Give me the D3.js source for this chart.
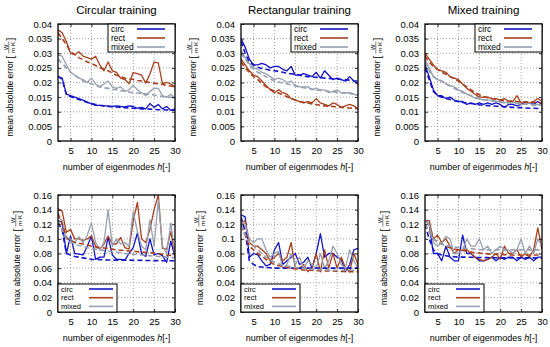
<!DOCTYPE html>
<html><head><meta charset="utf-8">
<script src="https://cdn.jsdelivr.net/npm/d3@7"></script>
<style>body{margin:0;background:#fff}svg{display:block}</style>
</head><body>
<svg id="c" width="550" height="347"></svg>
<script>
// ---------- data ----------
const hValues = [2,3,4,5,6,7,8,9,10,11,12,13,14,15,16,17,18,19,20,21,22,23,24,25,26,27,28,29,30];
const seriesNames = ["circ","rect","mixed"];
const panelTitles = ["Circular training","Rectangular training","Mixed training"];
const xTicks = [5,10,15,20,25,30];
const meanTicks = [0,0.005,0.01,0.015,0.02,0.025,0.03,0.035,0.04];
const maxTicks = [0,0.02,0.04,0.06,0.08,0.1,0.12,0.14,0.16];
const meanTickLabels = ["0","0.005","0.01","0.015","0.02","0.025","0.03","0.035","0.04"];
const maxTickLabels = ["0","0.02","0.04","0.06","0.08","0.1","0.12","0.14","0.16"];

// mean absolute error, circular training
const meanCircTrainCirc  = [.022,.0215,.016,.0155,.015,.0145,.014,.0133,.0127,.0122,.0122,.012,.012,.0118,.012,.0118,.0117,.012,.0118,.0112,.0115,.011,.0128,.0115,.0125,.011,.0118,.0105,.011];
const meanCircTrainCircD = [.022,.0212,.0158,.0152,.0147,.0142,.0137,.0132,.0128,.0125,.0122,.012,.0118,.0117,.0116,.0115,.0114,.0113,.0112,.0111,.011,.011,.0109,.0108,.0107,.0107,.0106,.0105,.0105];
const meanCircTrainRect  = [.038,.037,.034,.030,.0295,.0305,.029,.0285,.028,.029,.026,.024,.027,.024,.0235,.0215,.021,.0196,.0234,.023,.0225,.0198,.0229,.027,.0267,.0196,.020,.0195,.0185];
const meanCircTrainRectD = [.037,.035,.033,.0305,.0295,.0285,.0278,.027,.0265,.0258,.025,.0245,.024,.0232,.0225,.022,.0215,.0212,.021,.0207,.0205,.0202,.020,.0198,.0195,.0193,.019,.0188,.0185];
const meanCircTrainMixed = [.0295,.029,.026,.0235,.0225,.0215,.021,.020,.0215,.0195,.0185,.0195,.0205,.0185,.018,.0185,.017,.0175,.019,.0175,.0165,.0155,.017,.018,.018,.0155,.015,.016,.0145];
const meanCircTrainMixedD= [.028,.0265,.025,.0235,.0225,.0215,.0205,.020,.0195,.019,.0185,.0182,.018,.0177,.0175,.0172,.017,.0167,.0165,.0164,.0163,.0161,.016,.0157,.0155,.0152,.015,.0149,.0148];
// mean absolute error, rectangular training
const meanRectTrainCirc  = [.035,.032,.028,.026,.026,.0265,.026,.025,.0255,.0255,.0245,.024,.0255,.0225,.0225,.023,.0225,.022,.0235,.0215,.024,.0225,.021,.0215,.021,.0205,.022,.0205,.0195];
const meanRectTrainCircD = [.034,.030,.027,.026,.0252,.0248,.0245,.0242,.024,.0238,.0235,.0232,.023,.0228,.0225,.0222,.022,.0219,.0218,.0217,.0215,.0214,.0213,.0212,.021,.0209,.0208,.0206,.0205];
const meanRectTrainRect  = [.028,.026,.024,.0225,.022,.0205,.019,.0175,.0165,.0175,.0165,.016,.0145,.014,.0135,.013,.0135,.013,.0145,.013,.0125,.012,.013,.0125,.0115,.012,.0125,.012,.011];
const meanRectTrainRectD = [.027,.025,.0235,.022,.021,.0197,.0185,.0177,.017,.0164,.0158,.0151,.0145,.014,.0135,.0132,.013,.0127,.0125,.0122,.012,.0119,.0118,.0117,.0115,.0114,.0113,.0112,.011];
const meanRectTrainMixed = [.031,.0285,.0265,.025,.0245,.0235,.023,.022,.021,.0215,.021,.020,.0205,.019,.0185,.0185,.0185,.0175,.018,.0175,.0175,.0165,.017,.0175,.0165,.0165,.0165,.016,.0155];
const meanRectTrainMixedD= [.030,.028,.026,.0245,.0235,.0228,.022,.0212,.0205,.0202,.0198,.0195,.0192,.0188,.0185,.0182,.018,.0178,.0175,.0173,.0172,.017,.0168,.0167,.0165,.0163,.0162,.0161,.016];
// mean absolute error, mixed training
const meanMixTrainCirc   = [.026,.022,.0175,.0155,.0155,.0145,.015,.014,.0135,.0135,.0125,.013,.0125,.013,.0125,.013,.0125,.013,.0125,.0115,.0125,.0125,.012,.0125,.013,.013,.0125,.0135,.0125];
const meanMixTrainCircD  = [.025,.021,.017,.0155,.015,.0146,.0142,.0138,.0135,.0132,.013,.0128,.0127,.0124,.0122,.0121,.012,.0119,.0118,.0117,.0116,.0115,.0114,.0114,.0113,.0112,.0112,.0111,.011];
const meanMixTrainRect   = [.030,.028,.026,.0245,.024,.0235,.022,.0215,.021,.0195,.018,.017,.016,.015,.015,.015,.0145,.0145,.014,.0145,.0135,.0135,.0155,.013,.0135,.013,.0135,.0145,.0135];
const meanMixTrainRectD  = [.029,.027,.0255,.0245,.0235,.0228,.022,.0212,.0205,.0195,.0185,.0175,.0165,.0158,.0152,.0148,.0145,.0142,.014,.0138,.0137,.0136,.0135,.0134,.0133,.0133,.0132,.0131,.013];
const meanMixTrainMixed  = [.028,.025,.022,.021,.0205,.0195,.019,.0185,.0175,.017,.016,.0155,.0145,.0145,.014,.014,.014,.0135,.0135,.013,.0135,.013,.0135,.0125,.0125,.013,.012,.0125,.012];
const meanMixTrainMixedD = [.027,.024,.022,.021,.0205,.0195,.0188,.018,.0172,.0166,.016,.0155,.015,.0146,.0142,.014,.0137,.0135,.0133,.0131,.013,.0129,.0128,.0127,.0126,.0125,.0124,.0123,.0122];
// max absolute error, circular training
const maxCircTrainCirc   = [.125,.123,.080,.104,.080,.079,.078,.090,.104,.072,.075,.075,.102,.078,.072,.072,.071,.080,.088,.108,.080,.076,.100,.078,.080,.077,.068,.097,.075];
const maxCircTrainCircD  = [.122,.112,.080,.078,.076,.075,.074,.073,.072,.0718,.0716,.0714,.0712,.071,.071,.071,.071,.071,.0708,.0707,.0706,.0705,.0704,.0703,.0702,.0701,.070,.070,.070];
const maxCircTrainRect   = [.141,.138,.109,.113,.100,.100,.098,.100,.104,.090,.086,.093,.104,.093,.093,.102,.088,.086,.125,.150,.100,.095,.113,.140,.160,.087,.086,.110,.077];
const maxCircTrainRectD  = [.135,.120,.102,.097,.095,.094,.093,.092,.090,.089,.088,.0875,.087,.086,.085,.0845,.084,.0835,.083,.0825,.082,.0815,.081,.0805,.080,.079,.078,.0775,.077];
const maxCircTrainMixed  = [.130,.125,.100,.100,.095,.103,.095,.105,.122,.095,.085,.095,.140,.090,.100,.093,.095,.090,.137,.110,.090,.085,.126,.090,.153,.090,.080,.122,.080];
const maxCircTrainMixedD = [.125,.112,.100,.096,.093,.091,.090,.088,.087,.086,.085,.084,.083,.0825,.082,.081,.080,.0795,.079,.0785,.078,.0775,.077,.0765,.076,.0755,.075,.0745,.074];
// max absolute error, rectangular training
const maxRectTrainCirc   = [.133,.130,.075,.080,.078,.070,.063,.065,.085,.095,.065,.070,.075,.080,.065,.068,.075,.060,.080,.107,.075,.080,.080,.075,.072,.055,.065,.085,.087];
const maxRectTrainCircD  = [.130,.110,.070,.065,.062,.0615,.061,.0605,.060,.060,.060,.060,.060,.060,.060,.060,.060,.060,.060,.060,.060,.060,.060,.060,.060,.060,.060,.060,.060];
const maxRectTrainRect   = [.120,.125,.095,.090,.090,.085,.080,.070,.075,.080,.070,.075,.095,.060,.060,.065,.055,.060,.080,.055,.085,.060,.080,.060,.075,.060,.055,.080,.065];
const maxRectTrainRectD  = [.118,.105,.090,.085,.080,.076,.072,.068,.065,.0635,.062,.061,.060,.059,.058,.0575,.057,.057,.0565,.0565,.056,.056,.056,.0558,.0555,.0553,.055,.055,.055];
const maxRectTrainMixed  = [.125,.120,.100,.095,.100,.100,.085,.075,.080,.083,.060,.065,.080,.065,.075,.060,.070,.065,.060,.080,.060,.070,.090,.080,.065,.060,.085,.070,.060];
const maxRectTrainMixedD = [.120,.105,.095,.090,.085,.080,.075,.071,.068,.066,.064,.063,.062,.061,.060,.0595,.059,.0585,.058,.058,.058,.0575,.057,.057,.057,.057,.057,.057,.057];
// max absolute error, mixed training
const maxMixTrainCirc    = [.125,.120,.080,.080,.070,.090,.075,.070,.070,.105,.080,.080,.075,.070,.070,.072,.075,.070,.075,.072,.075,.075,.070,.075,.072,.075,.070,.075,.075];
const maxMixTrainCircD   = [.120,.100,.085,.080,.078,.077,.076,.0755,.075,.075,.075,.0748,.0746,.0745,.0744,.0743,.0742,.0741,.074,.074,.074,.074,.074,.074,.074,.074,.074,.074,.074];
const maxMixTrainRect    = [.125,.125,.100,.105,.095,.100,.090,.080,.085,.085,.085,.080,.075,.072,.070,.072,.075,.080,.072,.090,.080,.080,.085,.075,.080,.075,.085,.115,.085];
const maxMixTrainRectD   = [.120,.110,.100,.096,.093,.090,.088,.086,.085,.084,.083,.082,.081,.0805,.080,.0795,.079,.079,.079,.0785,.078,.078,.078,.078,.078,.078,.078,.078,.078];
const maxMixTrainMixed   = [.125,.120,.095,.090,.095,.103,.100,.080,.080,.085,.100,.090,.090,.100,.085,.090,.080,.085,.090,.085,.085,.080,.085,.100,.080,.090,.080,.100,.090];
const maxMixTrainMixedD  = [.120,.110,.100,.096,.093,.091,.090,.089,.088,.0875,.087,.0865,.086,.0855,.085,.085,.085,.085,.085,.085,.085,.085,.085,.085,.085,.085,.085,.085,.085];

// ---------- layout / style ----------
const colors = {circ:"#1414c8", rect:"#a8401e", mixed:"#97a0b0"};
const plotLefts = [58, 241, 425];
const plotW = 117;
const rows = [
  {top:24, bottom:141, domain:[0,0.04], ticks:meanTicks, labels:meanTickLabels, word:"mean", legend:"top", ylabOff:48, title:true,
   data:[[meanCircTrainCirc,meanCircTrainCircD,meanCircTrainRect,meanCircTrainRectD,meanCircTrainMixed,meanCircTrainMixedD],
         [meanRectTrainCirc,meanRectTrainCircD,meanRectTrainRect,meanRectTrainRectD,meanRectTrainMixed,meanRectTrainMixedD],
         [meanMixTrainCirc,meanMixTrainCircD,meanMixTrainRect,meanMixTrainRectD,meanMixTrainMixed,meanMixTrainMixedD]]},
  {top:195, bottom:312, domain:[0,0.16], ticks:maxTicks, labels:maxTickLabels, word:"max", legend:"bottom", ylabOff:41, title:false,
   data:[[maxCircTrainCirc,maxCircTrainCircD,maxCircTrainRect,maxCircTrainRectD,maxCircTrainMixed,maxCircTrainMixedD],
         [maxRectTrainCirc,maxRectTrainCircD,maxRectTrainRect,maxRectTrainRectD,maxRectTrainMixed,maxRectTrainMixedD],
         [maxMixTrainCirc,maxMixTrainCircD,maxMixTrainRect,maxMixTrainRectD,maxMixTrainMixed,maxMixTrainMixedD]]}
];
const tickFont = "'Liberation Sans', Arial, sans-serif";
const labFont = "'Liberation Sans', Arial, sans-serif";

const svg = d3.select("#c");
let clipId = 0;

rows.forEach((row, ri) => {
  plotLefts.forEach((left, pi) => {
    const x = d3.scaleLinear().domain([2,30]).range([left, left+plotW]);
    const y = d3.scaleLinear().domain(row.domain).range([row.bottom, row.top]);
    const g = svg.append("g");

    // grid
    const gridX = xTicks.filter(t => t < 30);
    g.selectAll(null).data(gridX).join("line")
      .attr("x1", d=>x(d)).attr("x2", d=>x(d)).attr("y1", row.top).attr("y2", row.bottom)
      .attr("stroke","#777").attr("stroke-width",0.7).attr("stroke-dasharray","1,2");
    const gridY = row.ticks.slice(1, -1);
    g.selectAll(null).data(gridY).join("line")
      .attr("x1", left).attr("x2", left+plotW).attr("y1", d=>y(d)).attr("y2", d=>y(d))
      .attr("stroke","#777").attr("stroke-width",0.7).attr("stroke-dasharray","1,2");

    // clip
    const cid = "clip"+(clipId++);
    svg.append("clipPath").attr("id",cid).append("rect")
      .attr("x",left).attr("y",row.top).attr("width",plotW).attr("height",row.bottom-row.top);

    const lines = g.append("g").attr("clip-path",`url(#${cid})`);
    const lineGen = d3.line().x((d,i)=>x(hValues[i])).y(d=>y(d));
    const ser = row.data[pi];
    [0,2,4].forEach((k,si) => {
      lines.append("path").attr("d", lineGen(ser[k])).attr("fill","none")
        .attr("stroke", colors[seriesNames[si]]).attr("stroke-width",1.3).attr("stroke-linejoin","round");
    });
    [1,3,5].forEach((k,si) => {
      lines.append("path").attr("d", lineGen(ser[k])).attr("fill","none")
        .attr("stroke", colors[seriesNames[si]]).attr("stroke-width",1.6).attr("stroke-dasharray","5,3");
    });

    // axes with d3
    const axB = d3.axisBottom(x).tickValues(xTicks).tickSize(-3).tickPadding(6).tickFormat(d3.format("d"));
    const axL = d3.axisLeft(y).tickValues(row.ticks).tickSize(-3).tickPadding(6).tickFormat((d,i)=>row.labels[i]);
    const axT = d3.axisTop(x).tickValues(xTicks).tickSize(-3).tickFormat("");
    const axR = d3.axisRight(y).tickValues(row.ticks).tickSize(-3).tickFormat("");
    const styleAx = sel => {
      sel.select(".domain").remove();
      sel.selectAll("line").attr("stroke","#000").attr("stroke-width",0.8);
      sel.selectAll("text").attr("font-family",tickFont).attr("font-size","9.5px").attr("fill","#000");
    };
    g.append("g").attr("transform",`translate(0,${row.bottom})`).call(axB).call(styleAx);
    g.append("g").attr("transform",`translate(${left},0)`).call(axL).call(styleAx);
    g.append("g").attr("transform",`translate(0,${row.top})`).call(axT).call(styleAx);
    g.append("g").attr("transform",`translate(${left+plotW},0)`).call(axR).call(styleAx);

    // frame
    g.append("rect").attr("x",left).attr("y",row.top).attr("width",plotW).attr("height",row.bottom-row.top)
      .attr("fill","none").attr("stroke","#000").attr("stroke-width",1.3);

    // legend
    let lx, ly, lw, lh, rowH, fs;
    if (row.legend === "top") { lw = 67; lh = 28; lx = left+plotW-lw; ly = row.top; rowH = 9; fs = 8.5; }
    else { lw = 59; lh = 28; lx = left; ly = row.bottom-lh; rowH = 8.7; fs = 7.5; }
    const lg = g.append("g");
    lg.append("rect").attr("x",lx).attr("y",ly).attr("width",lw).attr("height",lh)
      .attr("fill","#fff").attr("stroke","#000").attr("stroke-width",1);
    seriesNames.forEach((s,si) => {
      const cy = ly + 5 + si*rowH;
      lg.append("text").attr("x",lx+3).attr("y",cy+fs*0.36).text(s)
        .attr("font-family",tickFont).attr("font-size",fs+"px").attr("fill","#000");
      const l0 = row.legend==="top" ? lx+29 : lx+31;
      const l1 = row.legend==="top" ? lx+57 : lx+55;
      lg.append("line").attr("x1",l0).attr("x2",l1).attr("y1",cy).attr("y2",cy)
        .attr("stroke",colors[s]).attr("stroke-width",1.6);
    });

    // x title
    const xt = g.append("text").attr("x", left+plotW/2).attr("y", row.bottom+29)
      .attr("text-anchor","middle").attr("font-family",labFont).attr("font-size","9px").attr("fill","#000");
    xt.append("tspan").text("number of eigenmodes ");
    xt.append("tspan").attr("font-style","italic").text("h");
    xt.append("tspan").text("[-]");

    // y title (rotated) with fraction W/(m·K)
    const cyMid = (row.top+row.bottom)/2;
    const yg = g.append("g").attr("transform",`translate(${left-row.ylabOff},${cyMid}) rotate(-90)`);
    yg.append("text").attr("x",-16).attr("y",3).attr("text-anchor","middle")
      .attr("font-family",labFont).attr("font-size","8.5px").attr("fill","#000")
      .text(row.word + " absolute error");
    const bx = row.word === "mean" ? 24 : 22;
    yg.append("text").attr("x",bx).attr("y",3.5).attr("font-family",labFont).attr("font-size","10px").text("[");
    yg.append("text").attr("x",bx+11).attr("y",-2.5).attr("text-anchor","middle").attr("font-family",labFont).attr("font-size","6px").text("W");
    yg.append("line").attr("x1",bx+5).attr("x2",bx+17).attr("y1",-1.2).attr("y2",-1.2).attr("stroke","#000").attr("stroke-width",0.5);
    yg.append("text").attr("x",bx+11).attr("y",4.5).attr("text-anchor","middle").attr("font-family",labFont).attr("font-size","6px").text("m·K");
    yg.append("text").attr("x",bx+18).attr("y",3.5).attr("font-family",labFont).attr("font-size","10px").text("]");

    // panel title
    if (row.title) {
      g.append("text").attr("x", left+plotW/2).attr("y", 13.5).attr("text-anchor","middle")
        .attr("font-family",labFont).attr("font-size","11.5px").attr("fill","#000").text(panelTitles[pi]);
    }
  });
});
</script>
</body></html>
